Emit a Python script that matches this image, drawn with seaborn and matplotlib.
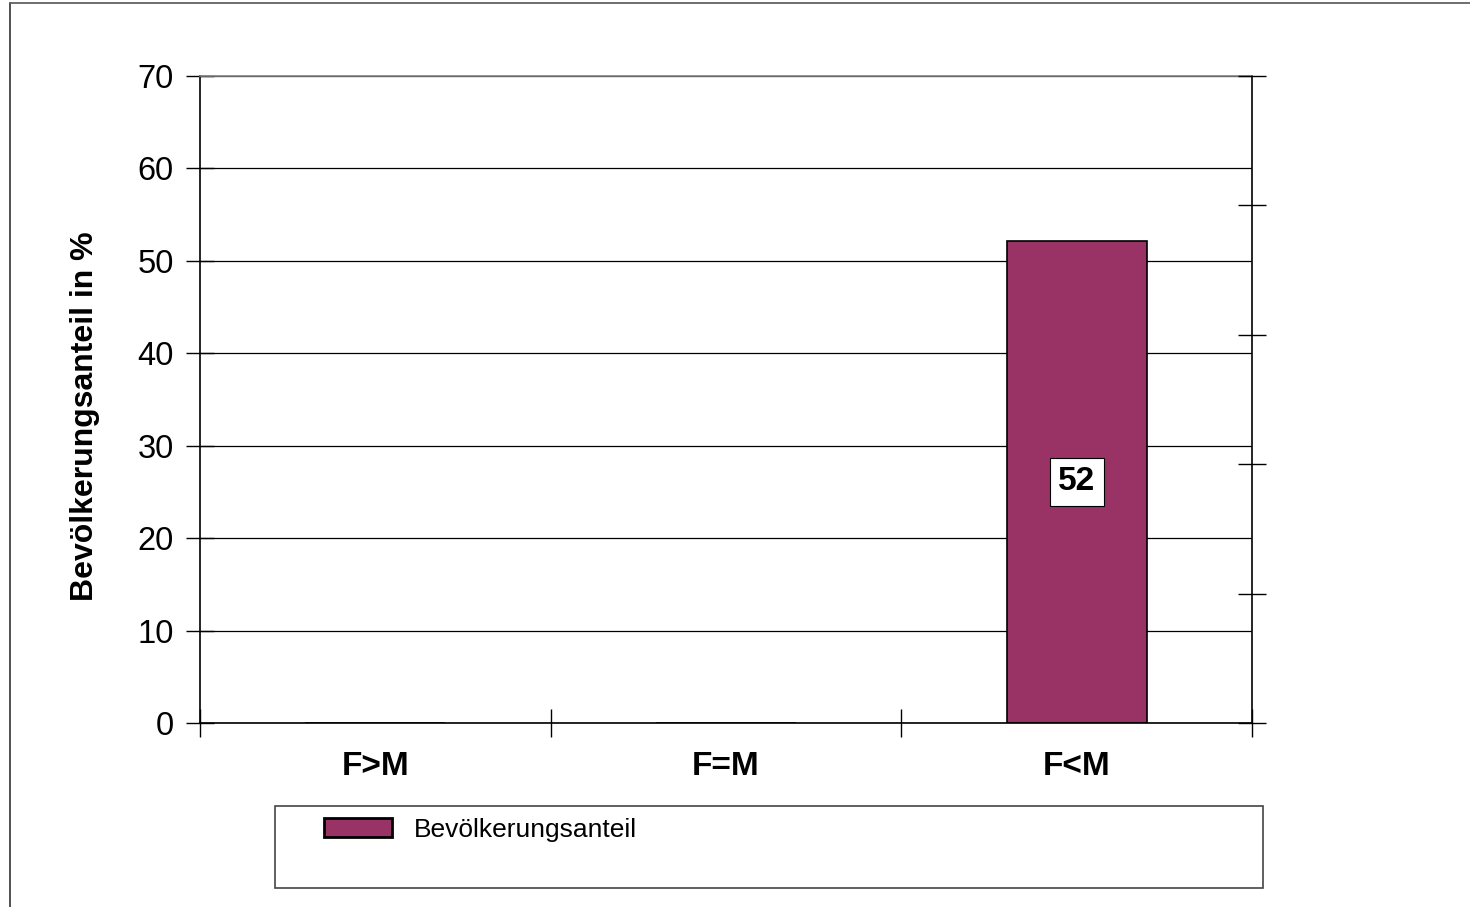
import matplotlib
matplotlib.use("Agg")
import matplotlib.pyplot as plt
from matplotlib.lines import Line2D
from matplotlib.patches import Rectangle, Patch
import seaborn as sns
import pandas as pd

categories = ["F>M", "F=M", "F<M"]
values = [0, 0, 52.2]
value_labels = ["", "", "52"]
series_name = "Bevölkerungsanteil"
y_label = "Bevölkerungsanteil in %"
y_ticks = [0, 10, 20, 30, 40, 50, 60, 70]

sns.set_theme(style="white")
plt.rcParams["font.family"] = ["Liberation Sans", "DejaVu Sans"]
plt.rcParams["text.color"] = "black"
plt.rcParams["axes.labelcolor"] = "black"
plt.rcParams["xtick.color"] = "black"
plt.rcParams["ytick.color"] = "black"

W, H = 1470, 907
fig = plt.figure(figsize=(W / 100, H / 100), dpi=100)
ax = fig.add_axes([200 / W, 1 - 723 / H, (1252 - 200) / W, (723 - 76) / H])

df = pd.DataFrame({"cat": categories, "val": values})
bar_color = "#993366"
sns.barplot(data=df, x="cat", y="val", ax=ax, color=bar_color, width=0.4,
            edgecolor="black", linewidth=1.2, saturation=1)

ax.set_ylim(0, 70)
ax.set_xlim(-0.5, 2.5)
ax.set_yticks(y_ticks)
ax.set_yticklabels([str(t) for t in y_ticks], fontsize=23.5, color="black")
ax.yaxis.grid(True, color="black", linewidth=0.9)
ax.set_axisbelow(True)
ax.tick_params(axis="y", direction="inout", length=20, width=1, color="black", pad=9, left=True)

ax.set_xticks(range(len(categories)))
ax.set_xticklabels(categories, fontsize=24, fontweight="bold", color="black")
ax.tick_params(axis="x", which="major", length=0, pad=20)
ax.set_xticks([-0.5, 0.5, 1.5, 2.5], minor=True)
ax.tick_params(axis="x", which="minor", direction="inout", length=20, width=1, color="black", bottom=True)
ax.set_xlabel("")
ax.set_ylabel(y_label, fontsize=23, fontweight="bold", color="black")
ax.yaxis.set_label_coords(-0.095, 0.4745)

for s in ["left", "right", "bottom"]:
    ax.spines[s].set_color("black")
    ax.spines[s].set_linewidth(1.2)
ax.spines["top"].set_color("#808080")
ax.spines["top"].set_linewidth(1.2)

# secondary (unlabelled) right axis
ax2 = ax.twinx()
ax2.set_ylim(0, 5)
ax2.set_yticks([0, 1, 2, 3, 4, 5])
ax2.set_yticklabels([])
ax2.tick_params(axis="y", direction="inout", length=20, width=1, color="black", right=True)
ax2.grid(False)
for s in ax2.spines.values():
    s.set_visible(False)

# value labels
for i, (v, lab) in enumerate(zip(values, value_labels)):
    if lab:
        ax.text(i, v / 2, lab, ha="center", va="center", fontsize=24, fontweight="bold", color="black",
                bbox=dict(boxstyle="square,pad=0.25", facecolor="white", edgecolor="black", linewidth=0.8))

# legend frame
fig.patches.append(Rectangle((275 / W, 1 - 888 / H), (1263 - 275) / W, (888 - 806) / H,
                             transform=fig.transFigure, facecolor="white", edgecolor="#444444",
                             linewidth=1.2))
handle = Patch(facecolor=bar_color, edgecolor="black", linewidth=2)
fig.legend([handle], [series_name], loc="upper left", bbox_to_anchor=(300 / W, 1 - 794 / H),
           frameon=False, fontsize=19, handlelength=2.6, handleheight=0.68, handletextpad=0.8,
           labelcolor="black")

# outer chart border (partially visible)
fig.add_artist(Line2D([10 / W, 10 / W], [0, 1 - 3 / H], transform=fig.transFigure, color="#333333", linewidth=1.2))
fig.add_artist(Line2D([10 / W, 1], [1 - 3 / H, 1 - 3 / H], transform=fig.transFigure, color="#555555", linewidth=1.2))

fig.savefig("out.png", dpi=100)
